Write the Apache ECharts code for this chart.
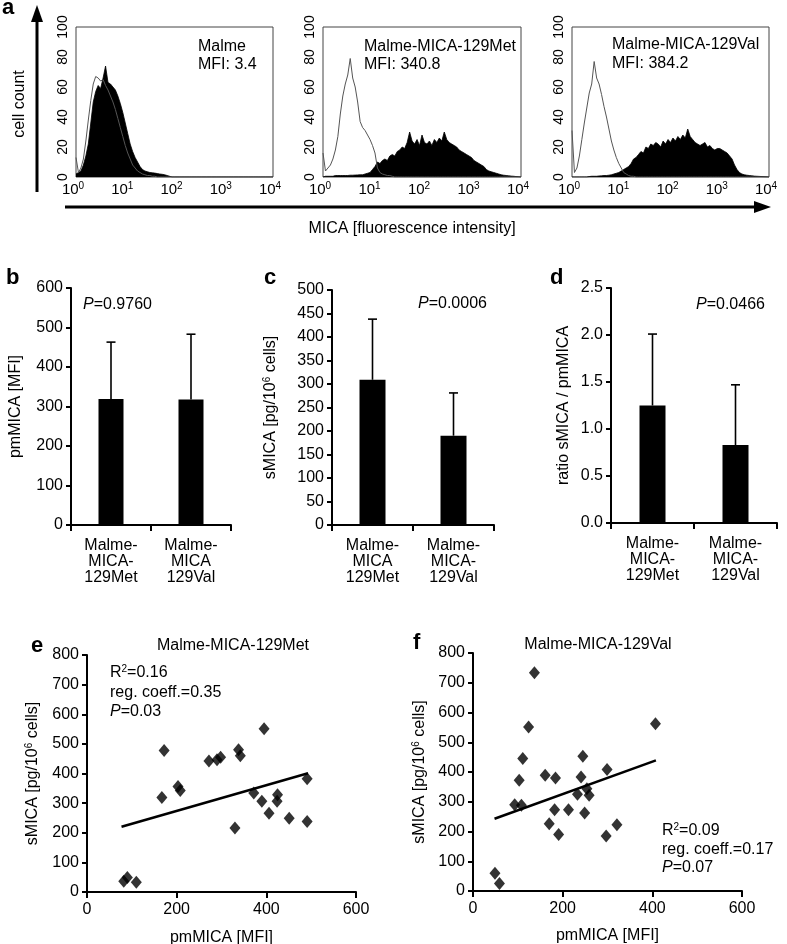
<!DOCTYPE html>
<html><head><meta charset="utf-8">
<script src="https://cdn.jsdelivr.net/npm/echarts@6/dist/echarts.min.js"></script>
<style>html,body{margin:0;padding:0;background:#fff}#c{width:787px;height:944px}</style>
</head><body><div id="c"></div>
<script>
// ---------- Panel a: flow cytometry histograms (cell count per 0.05-decade channel, 10^0..10^4) ----------
const histDecadeStep = 0.05;
const malmeControl = [13,3,6,12,24,38,51,62,67,66,64,65,61,58,54,50,45,39,33,27,
  21,16,12,8,6,4,3,2,1.5,1,1,0.5,0.5,0,0,0,0,0,0,0,
  0,0,0,0,0,0,0,0,0,0,0,0,0,0,0,0,0,0,0,0,
  0,0,0,0,0,0,0,0,0,0,0,0,0,0,0,0,0,0,0,0,0];
const malmeStained = [2,3,4,8,14,22,36,50,57,61,59,66,74,63,62,60,58,54,49,43,
  36,29,22,17,13,10,7,5,4,3.5,3,2.8,2.6,2.3,2,1.8,1.5,1,0.5,0,
  0,0,0,0,0,0,0,0,0,0,0,0,0,0,0,0,0,0,0,0,
  0,0,0,0,0,0,0,0,0,0,0,0,0,0,0,0,0,0,0,0,0];
const metControl = [16,4,6,8,12,18,27,42,54,62,68,79,66,60,50,37,33,31,28,25,
  21,16,6,3,2,1.5,1,1,0.5,0,0,0,0,0,0,0,0,0,0,0,
  0,0,0,0,0,0,0,0,0,0,0,0,0,0,0,0,0,0,0,0,
  0,0,0,0,0,0,0,0,0,0,0,0,0,0,0,0,0,0,0,0,0];
const metStained = [0,0.5,0.5,0.5,0.5,1,1,1,1,1,1,1.2,1.2,1.3,1.4,1.5,1.5,2,2.5,3,
  5,7,10,9,11,12,11,14,15,14,17,18,20,19,23,30,24,22,25,21,
  28,23,22,24,21,25,23,26,24,30,25,23,22,21,20,18,17,16,15,14,
  13,11,10,9,8,7,5,4,3.5,3,2.5,2,1.5,1.2,1,0.8,0.6,0.5,0.3,0.2,0];
const valControl = [31,3,6,14,25,36,46,56,62,77,66,62,55,47,40,32,24,18,13,9,
  6,3,2,1,0.5,0.5,0,0,0,0,0,0,0,0,0,0,0,0,0,0,
  0,0,0,0,0,0,0,0,0,0,0,0,0,0,0,0,0,0,0,0,
  0,0,0,0,0,0,0,0,0,0,0,0,0,0,0,0,0,0,0,0,0];
const valStained = [0,0,0,0,0,0,0,0.3,0.5,0.5,0.5,0.7,0.8,1,1,1.2,1.5,2,2.5,3,
  4,5,6,7,9,12,13,15,17,16,20,19,22,21,23,22,20,24,22,25,
  23,26,24,27,25,28,26,32,27,25,23,22,21,22,23,20,21,19,18,19,
  19,18,17,16,14,12,8,5,3,2,1.5,1.2,1,0.8,0.6,0.5,0.4,0.3,0.2,0.1,0];
const histTitles = [['Malme','MFI: 3.4'],['Malme-MICA-129Met','MFI: 340.8'],['Malme-MICA-129Val','MFI: 384.2']];

// ---------- Panels b-d: bar charts (mean + SD) ----------
const catsB = ['Malme-\nMICA-\n129Met','Malme-\nMICA\n129Val'];
const catsC = ['Malme-\nMICA\n129Met','Malme-\nMICA-\n129Val'];
const catsD = ['Malme-\nMICA-\n129Met','Malme-\nMICA-\n129Val'];
const pmMicaMean = [319, 318];
const pmMicaSD = [144, 165];
const sMicaMean = [309, 190];
const sMicaSD = [129, 91];
const ratioMean = [1.25, 0.83];
const ratioSD = [0.76, 0.64];

// ---------- Panels e-f: scatter (pmMICA vs sMICA) ----------
const metPm = [82,90,110,167,172,203,208,272,290,298,330,338,342,395,372,390,406,425,424,451,491,491];
const metS  = [36,49,33,319,478,356,343,442,446,455,216,480,460,551,334,306,266,328,306,249,382,238];
const metFitX = [77, 493];
const metFitY = [220, 401];
const valPm = [137,124,111,103,93,108,161,184,182,170,191,213,233,241,245,254,259,249,299,297,321,407,49,59];
const valS  = [734,551,445,372,290,288,389,380,273,226,190,273,325,383,453,344,322,262,408,185,223,562,60,25];
const valFitX = [48, 408];
const valFitY = [243, 439];

const FONT = '"Liberation Sans", Arial, Helvetica, sans-serif';
const BLACK = '#000';

function histPairs(vals){ return vals.map((v,i)=>[Math.pow(10, i*histDecadeStep), v]); }
function pairs(xs, ys){ return xs.map((x,i)=>[x, ys[i]]); }

const grids = [
  {left:76, top:27, width:197, height:150, show:true, borderColor:'#444', borderWidth:1},
  {left:323, top:27, width:198, height:150, show:true, borderColor:'#444', borderWidth:1},
  {left:572, top:27, width:197, height:150, show:true, borderColor:'#444', borderWidth:1},
  {left:71, top:288, width:160, height:237},
  {left:332, top:290, width:162, height:235},
  {left:611, top:288, width:166, height:235},
  {left:87, top:655, width:269, height:237},
  {left:473, top:653, width:269, height:238}
].map(g=>Object.assign({containLabel:false, outerBoundsMode:'none'}, g));

const xAxes = [], yAxes = [];
for (let i=0;i<3;i++){
  xAxes.push({gridIndex:i, type:'log', logBase:10, min:1, max:10000,
    axisLine:{show:false}, axisTick:{show:false}, splitLine:{show:false}, minorTick:{show:false},
    axisLabel:{show:true, showMinLabel:true, showMaxLabel:true, margin:4, color:BLACK, fontFamily:FONT,
      formatter:v=>'{b|10}{s|'+Math.round(Math.log10(v))+'}',
      rich:{b:{fontSize:15, lineHeight:18, fontFamily:FONT, color:BLACK},
            s:{fontSize:10, lineHeight:10, verticalAlign:'top', fontFamily:FONT, color:BLACK, padding:[0,6,0,0]}}}});
  yAxes.push({gridIndex:i, type:'value', min:0, max:100, interval:20,
    axisLine:{show:false}, axisTick:{show:false}, splitLine:{show:false},
    axisLabel:{rotate:90, fontSize:14, margin:6, color:BLACK, fontFamily:FONT, showMinLabel:true, showMaxLabel:true}});
}
const barCats = [catsB, catsC, catsD];
const barY = [
  {min:0,max:600,interval:100,name:'pmMICA [MFI]',nameGap:46, fmt:v=>v},
  {min:0,max:500,interval:50,name:'sMICA [pg/10{s|6} cells]',nameGap:52, fmt:v=>v},
  {min:0,max:2.5,interval:0.5,name:'ratio sMICA / pmMICA',nameGap:38, fmt:v=>v.toFixed(1)}
];
const axisLineStyle = {show:true, lineStyle:{color:BLACK, width:2}};
const tickStyle = {show:true, length:6, inside:false, lineStyle:{color:BLACK, width:2}};
const nameStyle = {fontSize:16, color:BLACK, fontFamily:FONT, lineHeight:18,
  rich:{s:{fontSize:10, lineHeight:10, verticalAlign:'top', color:BLACK, fontFamily:FONT}}};
for (let k=0;k<3;k++){
  xAxes.push({gridIndex:3+k, type:'category', data:barCats[k], boundaryGap:true,
    axisLine:axisLineStyle, axisTick:Object.assign({alignWithLabel:false, interval:0}, tickStyle),
    axisLabel:{interval:0, fontSize:16, lineHeight:16, margin:13, color:BLACK, fontFamily:FONT}, splitLine:{show:false}});
  const b = barY[k];
  yAxes.push({gridIndex:3+k, type:'value', min:b.min, max:b.max, interval:b.interval,
    name:b.name, nameLocation:'middle', nameRotate:90, nameGap:b.nameGap, nameTextStyle:nameStyle,
    axisLine:axisLineStyle, axisTick:Object.assign({}, tickStyle, {length:5}), splitLine:{show:false},
    axisLabel:{fontSize:16, margin:8, color:BLACK, fontFamily:FONT, formatter:b.fmt, showMinLabel:true, showMaxLabel:true}});
}
const scNameGapY = [45, 44], scNameGapX = [37, 36];
for (let k=0;k<2;k++){
  xAxes.push({gridIndex:6+k, type:'value', min:0, max:600, interval:200,
    name:'pmMICA [MFI]', nameLocation:'middle', nameGap:scNameGapX[k], nameTextStyle:nameStyle,
    axisLine:axisLineStyle, axisTick:tickStyle, splitLine:{show:false},
    axisLabel:{fontSize:16, margin:10, color:BLACK, fontFamily:FONT, showMinLabel:true, showMaxLabel:true}});
  yAxes.push({gridIndex:6+k, type:'value', min:0, max:800, interval:100,
    name:'sMICA [pg/10{s|6} cells]', nameLocation:'middle', nameRotate:90, nameGap:scNameGapY[k], nameTextStyle:nameStyle,
    axisLine:axisLineStyle, axisTick:Object.assign({}, tickStyle, {length:5}), splitLine:{show:false},
    axisLabel:{fontSize:16, margin:8, color:BLACK, fontFamily:FONT, showMinLabel:true, showMaxLabel:true}});
}

const series = [];
const histSets = [[malmeStained, malmeControl],[metStained, metControl],[valStained, valControl]];
histSets.forEach((hs,i)=>{
  series.push({type:'line', xAxisIndex:i, yAxisIndex:i, data:histPairs(hs[0]), symbol:'none', silent:true, z:2,
    lineStyle:{color:BLACK, width:0.8}, areaStyle:{color:BLACK, opacity:1, origin:'start'}});
  series.push({type:'line', xAxisIndex:i, yAxisIndex:i, data:histPairs(hs[1]), symbol:'none', silent:true, z:3,
    lineStyle:{color:'#555', width:1}});
});
const barSets = [[pmMicaMean, pmMicaSD, 25],[sMicaMean, sMicaSD, 26],[ratioMean, ratioSD, 26]];
barSets.forEach((bs,k)=>{
  series.push({type:'bar', xAxisIndex:3+k, yAxisIndex:3+k, data:bs[0], barWidth:bs[2], z:2,
    itemStyle:{color:BLACK}});
  series.push({type:'custom', xAxisIndex:3+k, yAxisIndex:3+k, z:3,
    data:bs[0].map((m,i)=>[i, m, bs[1][i]]),
    encode:{x:0, y:1},
    renderItem:(params, api)=>{
      const c = api.value(0), m = api.value(1), sd = api.value(2);
      const p0 = api.coord([c, m]), p1 = api.coord([c, m+sd]);
      const st = {stroke:BLACK, lineWidth:1.6};
      return {type:'group', children:[
        {type:'line', shape:{x1:p0[0], y1:p0[1], x2:p1[0], y2:p1[1]}, style:st},
        {type:'line', shape:{x1:p1[0]-4.5, y1:p1[1], x2:p1[0]+4.5, y2:p1[1]}, style:st}
      ]};
    }});
});
const scSets = [[metPm, metS, metFitX, metFitY],[valPm, valS, valFitX, valFitY]];
scSets.forEach((s,k)=>{
  series.push({type:'line', xAxisIndex:6+k, yAxisIndex:6+k, data:pairs(s[2], s[3]), symbol:'none', z:2,
    lineStyle:{color:BLACK, width:2.5}});
  series.push({type:'scatter', xAxisIndex:6+k, yAxisIndex:6+k, data:pairs(s[0], s[1]), symbol:'diamond',
    symbolSize:[11,13], z:3, itemStyle:{color:BLACK}});
});

function txt(x, y, text, opt){
  opt = opt || {};
  return {type:'text', x:x, y:y, rotation:opt.rotation||0, silent:true,
    style:Object.assign({text:text, fill:BLACK, fontSize:opt.fontSize||16, fontFamily:FONT,
      fontWeight:opt.fontWeight||'normal', align:opt.align||'left', verticalAlign:'middle',
      rich:{i:{fontStyle:'italic', fontSize:16, fontFamily:FONT, fill:BLACK, color:BLACK},
            n:{fontSize:16, fontFamily:FONT, lineHeight:18, color:BLACK},
            s:{fontSize:10, lineHeight:10, verticalAlign:'top', fontFamily:FONT, color:BLACK}}}, opt.style||{})};
}
const graphic = [
  txt(2, 8, 'a', {fontSize:22, fontWeight:'bold'}),
  {type:'line', silent:true, shape:{x1:37, y1:192, x2:37, y2:18}, style:{stroke:BLACK, lineWidth:3}},
  {type:'polygon', silent:true, shape:{points:[[37,5],[31,22],[43,22]]}, style:{fill:BLACK}},
  txt(20, 104, 'cell count', {rotation:Math.PI/2, align:'center'}),
  {type:'line', silent:true, shape:{x1:65, y1:207, x2:757, y2:207}, style:{stroke:BLACK, lineWidth:3}},
  {type:'polygon', silent:true, shape:{points:[[771,207],[754,201],[754,213]]}, style:{fill:BLACK}},
  txt(412, 229, 'MICA [fluorescence intensity]', {align:'center'}),
  txt(198, 47, histTitles[0][0]), txt(198, 65, histTitles[0][1]),
  txt(364, 47, histTitles[1][0]), txt(364, 65, histTitles[1][1]),
  txt(612, 45, histTitles[2][0]), txt(612, 64, histTitles[2][1]),
  txt(6, 278, 'b', {fontSize:22, fontWeight:'bold'}),
  txt(264, 278, 'c', {fontSize:22, fontWeight:'bold'}),
  txt(550, 278, 'd', {fontSize:22, fontWeight:'bold'}),
  txt(83, 305, '{i|P}{n|=0.9760}'),
  txt(418, 304, '{i|P}{n|=0.0006}'),
  txt(696, 305, '{i|P}{n|=0.0466}'),
  txt(31, 646, 'e', {fontSize:22, fontWeight:'bold'}),
  txt(413, 643, 'f', {fontSize:22, fontWeight:'bold'}),
  txt(233, 646, 'Malme-MICA-129Met', {align:'center'}),
  txt(598, 645, 'Malme-MICA-129Val', {align:'center'}),
  txt(110, 673, '{n|R}{s|2}{n|=0.16}'),
  txt(110, 693, 'reg. coeff.=0.35'),
  txt(110, 712, '{i|P}{n|=0.03}'),
  txt(662, 831, '{n|R}{s|2}{n|=0.09}'),
  txt(662, 850, 'reg. coeff.=0.17'),
  txt(662, 868, '{i|P}{n|=0.07}')
];

const chart = echarts.init(document.getElementById('c'), null, {renderer:'canvas'});
chart.setOption({
  animation:false,
  backgroundColor:'#fff',
  textStyle:{fontFamily:FONT, color:BLACK},
  grid:grids, xAxis:xAxes, yAxis:yAxes, series:series, graphic:graphic
});
</script></body></html>
